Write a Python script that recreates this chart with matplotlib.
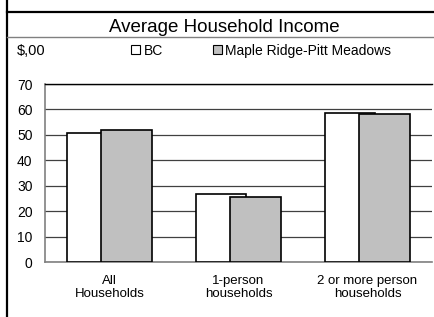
import matplotlib
matplotlib.use("Agg")
import matplotlib.pyplot as plt
from matplotlib.lines import Line2D

categories = ["All\nHouseholds", "1-person\nhouseholds", "2 or more person\nhouseholds"]
series_names = ["BC", "Maple Ridge-Pitt Meadows"]
bc_values = [50.6, 26.6, 58.5]
maple_values = [51.9, 25.6, 58.1]
y_ticks = [0, 10, 20, 30, 40, 50, 60, 70]

plt.rcParams["font.family"] = ["Liberation Sans", "DejaVu Sans"]

fig = plt.figure(figsize=(4.35, 3.17), dpi=100)
ax = fig.add_axes([0.1034, 0.1735, 0.8896, 0.5615])

x = list(range(len(categories)))
width = 0.39
bc_bars = ax.bar([i - 0.137 for i in x], bc_values, width, color="white",
                 edgecolor="black", linewidth=1.2, zorder=3, label=series_names[0])
mr_bars = ax.bar([i + 0.132 for i in x], maple_values, width, color="#c0c0c0",
                 edgecolor="black", linewidth=1.2, zorder=4, label=series_names[1])

ax.set_xlim(-0.5, len(categories) - 0.5)
ax.set_ylim(0, 70)
ax.set_yticks(y_ticks)
ax.set_xticks(x)
ax.set_xticklabels(categories, fontsize=9.5)
ax.tick_params(axis="x", length=0, pad=9)
ax.tick_params(axis="y", length=0, pad=9, labelsize=10)
ax.yaxis.grid(True, color="#404040", linewidth=0.9, zorder=1)
ax.set_axisbelow(True)

ax.spines["right"].set_visible(False)
ax.spines["top"].set_color("black")
ax.spines["top"].set_linewidth(1.0)
ax.spines["left"].set_color("#808080")
ax.spines["left"].set_linewidth(1.2)
ax.spines["bottom"].set_color("#808080")
ax.spines["bottom"].set_linewidth(1.2)

fig.text(0.515, 0.913, "Average Household Income", ha="center", va="center", fontsize=13.5)
fig.text(0.038, 0.840, "$,00", ha="left", va="center", fontsize=10.5)

leg = fig.legend(handles=[bc_bars, mr_bars], labels=series_names, ncol=2,
                 loc="center left", bbox_to_anchor=(0.301, 0.840), frameon=False,
                 fontsize=10, handlelength=0.65, handleheight=0.65, handletextpad=0.25,
                 columnspacing=3.6, borderpad=0, borderaxespad=0)
for h in leg.legend_handles:
    h.set_linewidth(0.8)

# frame lines around the chart
fig.add_artist(Line2D([0.016, 0.016], [0, 1], color="black", linewidth=1.6,
                      transform=fig.transFigure))
fig.add_artist(Line2D([0.016, 1], [0.961, 0.961], color="black", linewidth=1.6,
                      transform=fig.transFigure))
fig.add_artist(Line2D([0.016, 1], [0.884, 0.884], color="#808080", linewidth=1.0,
                      transform=fig.transFigure))

fig.savefig("out.png", dpi=100)
